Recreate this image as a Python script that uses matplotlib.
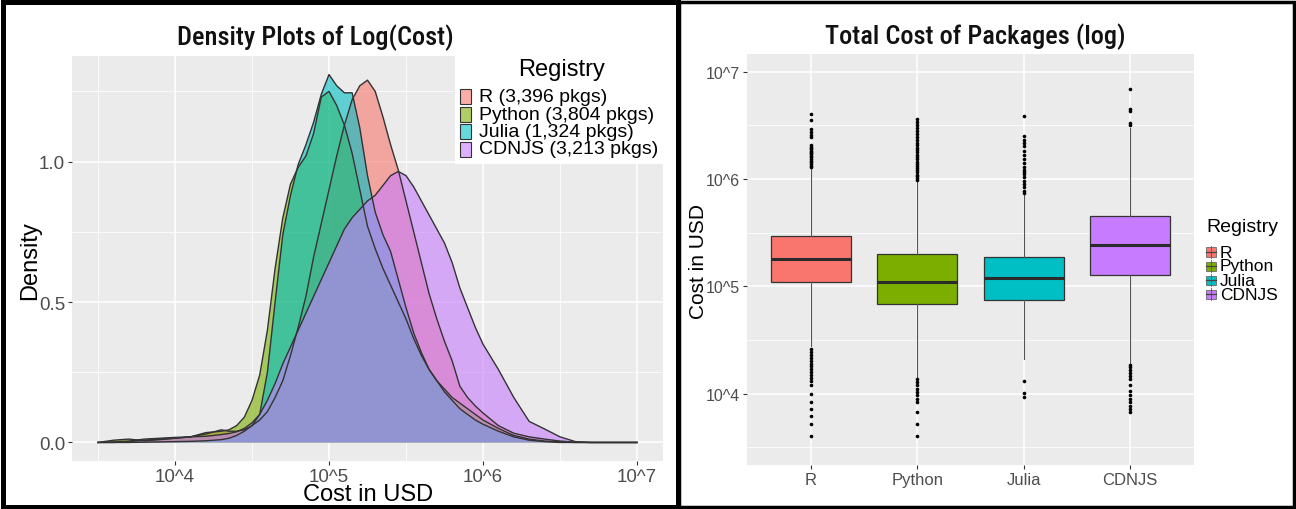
"""Density and box plots of package cost per registry."""
import matplotlib
matplotlib.use("Agg")
import matplotlib.pyplot as plt
from matplotlib import font_manager
from matplotlib.patches import Rectangle
from matplotlib.lines import Line2D
from matplotlib.ticker import NullFormatter
from matplotlib.colors import to_rgb

W, H = 1296, 510

registries = ["R", "Python", "Julia", "CDNJS"]
pkg_counts = ["3,396", "3,804", "1,324", "3,213"]
colors = ["#F8766D", "#7CAE00", "#00BFC4", "#C77CFF"]

# density of log10(cost) per registry
log10_cost = [3.5, 3.6, 3.7, 3.8, 3.9, 4.0, 4.1, 4.2, 4.3, 4.35, 4.4, 4.45, 4.5,
              4.55, 4.6, 4.65, 4.7, 4.75, 4.8, 4.85, 4.9, 4.95, 5.0, 5.05, 5.1,
              5.15, 5.2, 5.25, 5.3, 5.35, 5.4, 5.45, 5.5, 5.55, 5.6, 5.65, 5.7,
              5.75, 5.8, 5.85, 5.9, 5.95, 6.0, 6.1, 6.2, 6.3, 6.4, 6.5, 6.6,
              6.7, 6.8, 7.0]
density_r = [0.0, 0.0, 0.003, 0.008, 0.012, 0.015, 0.02, 0.03, 0.045, 0.04, 0.04,
             0.045, 0.06, 0.08, 0.11, 0.16, 0.22, 0.31, 0.41, 0.52, 0.66, 0.78,
             0.9, 1.02, 1.13, 1.22, 1.27, 1.29, 1.25, 1.16, 1.06, 0.97, 0.86,
             0.75, 0.64, 0.53, 0.44, 0.36, 0.29, 0.2, 0.16, 0.13, 0.105, 0.06,
             0.033, 0.02, 0.012, 0.005, 0.001, 0.0, 0.0, 0.0]
density_python = [0.0, 0.008, 0.012, 0.006, 0.01, 0.015, 0.02, 0.035, 0.04, 0.045,
                  0.06, 0.09, 0.15, 0.24, 0.4, 0.62, 0.8, 0.92, 0.98, 1.02, 1.1,
                  1.23, 1.25, 1.2, 1.13, 1.03, 0.9, 0.77, 0.69, 0.62, 0.56, 0.5,
                  0.44, 0.37, 0.31, 0.26, 0.22, 0.19, 0.16, 0.14, 0.12, 0.1, 0.08,
                  0.05, 0.025, 0.012, 0.005, 0.002, 0.0, 0.0, 0.0, 0.0]
density_julia = [0.0, 0.0, 0.0, 0.001, 0.002, 0.003, 0.004, 0.006, 0.01, 0.015,
                 0.025, 0.04, 0.06, 0.1, 0.25, 0.5, 0.74, 0.88, 0.99, 1.06, 1.14,
                 1.24, 1.31, 1.27, 1.245, 1.245, 1.12, 0.95, 0.82, 0.74, 0.68,
                 0.58, 0.48, 0.39, 0.32, 0.26, 0.22, 0.18, 0.15, 0.12, 0.1, 0.08,
                 0.065, 0.04, 0.02, 0.008, 0.003, 0.0, 0.0, 0.0, 0.0, 0.0]
density_cdnjs = [0.0, 0.002, 0.005, 0.012, 0.015, 0.018, 0.02, 0.022, 0.028, 0.032,
                 0.038, 0.05, 0.07, 0.1, 0.15, 0.21, 0.28, 0.34, 0.4, 0.46, 0.52,
                 0.58, 0.64, 0.7, 0.76, 0.8, 0.83, 0.86, 0.88, 0.915, 0.95, 0.965,
                 0.95, 0.91, 0.86, 0.81, 0.76, 0.71, 0.64, 0.55, 0.48, 0.41, 0.35,
                 0.26, 0.16, 0.075, 0.048, 0.02, 0.003, 0.0, 0.0, 0.0]
densities = [density_r, density_python, density_julia, density_cdnjs]

# box plot summaries, cost in USD
box_q1 = [1.1e5, 6.8e4, 7.5e4, 1.27e5]
box_median = [1.8e5, 1.1e5, 1.2e5, 2.43e5]
box_q3 = [2.93e5, 2.0e5, 1.89e5, 4.5e5]
whisker_low = [2.8e4, 1.42e4, 2.1e4, 1.89e4]
whisker_high = [1.25e6, 9.5e5, 7.2e5, 3.0e6]
outliers_r = [4.0e3, 5.2e3, 6.2e3, 7.2e3, 8.3e3, 9.9e3, 1.2e4, 1.3e4, 1.4e4, 1.5e4,
              1.6e4, 1.7e4, 1.8e4, 1.9e4, 2.0e4, 2.15e4, 2.3e4, 2.45e4, 2.6e4,
              1.29e6, 1.33e6, 1.37e6, 1.43e6, 1.48e6, 1.54e6, 1.6e6, 1.65e6,
              1.7e6, 1.75e6, 1.8e6, 1.84e6, 1.9e6, 1.94e6, 2.0e6, 2.05e6, 2.45e6,
              2.58e6, 2.73e6, 2.92e6, 3.51e6, 4.04e6]
outliers_python = [4.0e3, 5.2e3, 6.7e3, 8.3e3, 8.9e3, 9.6e3, 1.03e4, 1.1e4, 1.19e4,
                   1.27e4, 1.37e4, 9.8e5, 1.02e6, 1.06e6, 1.1e6, 1.15e6, 1.2e6,
                   1.26e6, 1.32e6, 1.38e6, 1.45e6, 1.52e6, 1.6e6, 1.68e6, 1.77e6,
                   1.86e6, 1.96e6, 2.06e6, 2.17e6, 2.3e6, 2.45e6, 2.6e6, 2.8e6,
                   3.0e6, 3.2e6, 3.4e6, 3.6e6]
outliers_julia = [9.3e3, 1.02e4, 1.32e4, 7.4e5, 7.8e5, 8.4e5, 9.0e5, 9.6e5, 1.04e6,
                  1.11e6, 1.17e6, 1.22e6, 1.29e6, 1.41e6, 1.53e6, 1.67e6, 1.84e6,
                  2.02e6, 2.16e6, 2.32e6, 2.5e6, 3.84e6]
outliers_cdnjs = [6.7e3, 7.2e3, 7.7e3, 8.3e3, 8.9e3, 9.6e3, 1.06e4, 1.19e4, 1.37e4,
                  1.45e4, 1.55e4, 1.65e4, 1.75e4, 1.85e4, 3.15e6, 3.3e6, 4.3e6,
                  4.5e6, 6.9e6]
outliers = [outliers_r, outliers_python, outliers_julia, outliers_cdnjs]

x_ticks = [4, 5, 6, 7]
x_tick_labels = ["10^4", "10^5", "10^6", "10^7"]
dens_ticks = [0.0, 0.5, 1.0]
dens_tick_labels = ["0.0", "0.5", "1.0"]
cost_ticks = [1e4, 1e5, 1e6, 1e7]
cost_tick_labels = ["10^4", "10^5", "10^6", "10^7"]

SANS = ["Liberation Sans", "DejaVu Sans"]
PANEL = "#EBEBEB"
TICK_TXT = "#4D4D4D"


def narrow_family():
    """Pick an installed condensed sans face for the headings."""
    fonts = font_manager.fontManager.ttflist
    names = {f.name for f in fonts}
    for want in ["Liberation Sans Narrow", "Roboto Condensed", "Open Sans Condensed",
                 "DejaVu Sans Condensed", "Noto Sans Condensed"]:
        if want in names:
            return [want, "DejaVu Sans"], 1.0
    for f in fonts:
        if f.stretch in ("condensed", "semi-condensed", "extra-condensed") \
                and "Serif" not in f.name and "Mono" not in f.name:
            return [f.name, "DejaVu Sans"], 1.0
    return ["Roboto", "DejaVu Sans"], 0.82


NARROW, NARROW_SCALE = narrow_family()


def fx(x):
    return x / W


def fy(y):
    return 1 - y / H


def blend(c, a, bg=(1, 1, 1)):
    r = to_rgb(c)
    return tuple(a * r[i] + (1 - a) * bg[i] for i in range(3))


def style_axes(ax):
    ax.set_facecolor(PANEL)
    for s in ax.spines.values():
        s.set_visible(False)
    ax.set_axisbelow(True)
    ax.grid(which="major", color="white", lw=1.1)
    ax.grid(which="minor", color="white", lw=0.55)
    ax.tick_params(which="major", length=3, width=0.8, color="#333333",
                   labelcolor=TICK_TXT, pad=2)
    ax.tick_params(which="minor", length=0)


fig = plt.figure(figsize=(W / 100, H / 100), dpi=100)
fig.patch.set_facecolor("white")

# ---- left: density plot ----
ax1 = fig.add_axes([fx(72), fy(462), (663 - 72) / W, (462 - 57) / H])
style_axes(ax1)
for dens, c in zip(densities, colors):
    ax1.fill_between(log10_cost, 0, dens, facecolor=c, alpha=0.6, lw=0)
    ax1.plot(log10_cost, dens, color="#333333", lw=1.0)
ax1.set_xlim(3.331, 7.169)
ax1.set_ylim(-0.066, 1.376)
ax1.set_xticks(x_ticks)
ax1.set_xticklabels(x_tick_labels, fontsize=13.5, family=SANS)
ax1.set_xticks([3.5, 4.5, 5.5, 6.5], minor=True)
ax1.set_yticks(dens_ticks)
ax1.set_yticklabels(dens_tick_labels, fontsize=13.5, family=SANS)
ax1.set_yticks([0.25, 0.75, 1.25], minor=True)

fig.text(fx(315), fy(38), "Density Plots of Log(Cost)", ha="center", va="center",
         fontsize=19 * NARROW_SCALE, family=NARROW, weight="medium",
         color="#111111")
fig.text(fx(368), fy(495), "Cost in USD", ha="center", va="center",
         fontsize=17, family=SANS, color="black")
fig.text(fx(30), fy(261), "Density", ha="center", va="center", rotation=90,
         fontsize=17, family=SANS, color="black")

# legend box drawn over the panel
fig.add_artist(Rectangle((fx(455), fy(165)), (672 - 455) / W, (165 - 52) / H,
                         transform=fig.transFigure, facecolor="white",
                         edgecolor="none", zorder=3))
fig.text(fx(562), fy(70), "Registry", ha="center", va="center", fontsize=17,
         family=SANS, color="black", zorder=4)
for i, (name, n, c) in enumerate(zip(registries, pkg_counts, colors)):
    yc = 97.5 + i * 17.5
    fig.add_artist(Rectangle((fx(460), fy(yc + 7.5)), 11 / W, 15 / H,
                             transform=fig.transFigure,
                             facecolor=blend(c, 0.6), edgecolor="#333333",
                             lw=0.8, zorder=4))
    fig.text(fx(479), fy(yc), f"{name} ({n} pkgs)", ha="left", va="center",
             fontsize=14, family=SANS, color="black", zorder=5)

# ---- right: box plot ----
ax2 = fig.add_axes([fx(747), fy(466), 447 / W, 411 / H])
style_axes(ax2)
ax2.set_yscale("log")
stats = []
for i, name in enumerate(registries):
    stats.append(dict(label=name, q1=box_q1[i], med=box_median[i], q3=box_q3[i],
                      whislo=whisker_low[i], whishi=whisker_high[i],
                      fliers=outliers[i]))
bp = ax2.bxp(stats, positions=range(len(registries)), widths=0.75,
             patch_artist=True, showcaps=False,
             boxprops=dict(edgecolor="#333333", lw=0.9),
             medianprops=dict(color="#2b2b2b", lw=2.2),
             whiskerprops=dict(color="#555555", lw=0.8),
             flierprops=dict(marker="o", markersize=2.6, markerfacecolor="black",
                             markeredgecolor="black", markeredgewidth=0))
for patch, c in zip(bp["boxes"], colors):
    patch.set_facecolor(c)
ax2.set_xlim(-0.6, 3.6)
ax2.set_ylim(2.16e3, 1.46e7)
ax2.set_xticks(range(len(registries)))
ax2.set_xticklabels(registries, fontsize=12, family=SANS)
ax2.set_yticks(cost_ticks)
ax2.set_yticklabels(cost_tick_labels, fontsize=11.5, family=SANS)
ax2.set_yticks([10 ** 3.5, 10 ** 4.5, 10 ** 5.5, 10 ** 6.5], minor=True)
ax2.yaxis.set_minor_formatter(NullFormatter())
ax2.tick_params(which="minor", length=0)

fig.text(fx(975), fy(37), "Total Cost of Packages (log)", ha="center",
         va="center", fontsize=19 * NARROW_SCALE, family=NARROW, weight="medium",
         color="#111111")
fig.text(fx(699), fy(262), "Cost in USD", ha="center", va="center", rotation=90,
         fontsize=15, family=SANS, color="black")

fig.text(fx(1206), fy(228), "Registry", ha="left", va="center", fontsize=14,
         family=SANS, color="black")
for i, (name, c) in enumerate(zip(registries, colors)):
    yc = 253 + i * 14
    fig.add_artist(Line2D([fx(1211), fx(1211)], [fy(yc - 6), fy(yc + 6)],
                          transform=fig.transFigure, color="#555555", lw=0.6))
    fig.add_artist(Rectangle((fx(1206), fy(yc + 4.5)), 10 / W, 9 / H,
                             transform=fig.transFigure, facecolor=c,
                             edgecolor="#555555", lw=0.5))
    fig.add_artist(Line2D([fx(1206), fx(1216)], [fy(yc), fy(yc)],
                          transform=fig.transFigure, color="#444444", lw=0.9))
    fig.text(fx(1220), fy(yc), name, ha="left", va="center", fontsize=12.5,
             family=SANS, color="black")

# frames around both panels
fig.add_artist(Rectangle((fx(2.5), fy(507.5)), 675 / W, 505 / H,
                         transform=fig.transFigure, facecolor="none",
                         edgecolor="black", lw=3.6, zorder=10))
fig.add_artist(Rectangle((fx(679), fy(507.5)), 614.5 / W, 505 / H,
                         transform=fig.transFigure, facecolor="none",
                         edgecolor="black", lw=2.5, zorder=10))

fig.savefig("out.png", dpi=100)
